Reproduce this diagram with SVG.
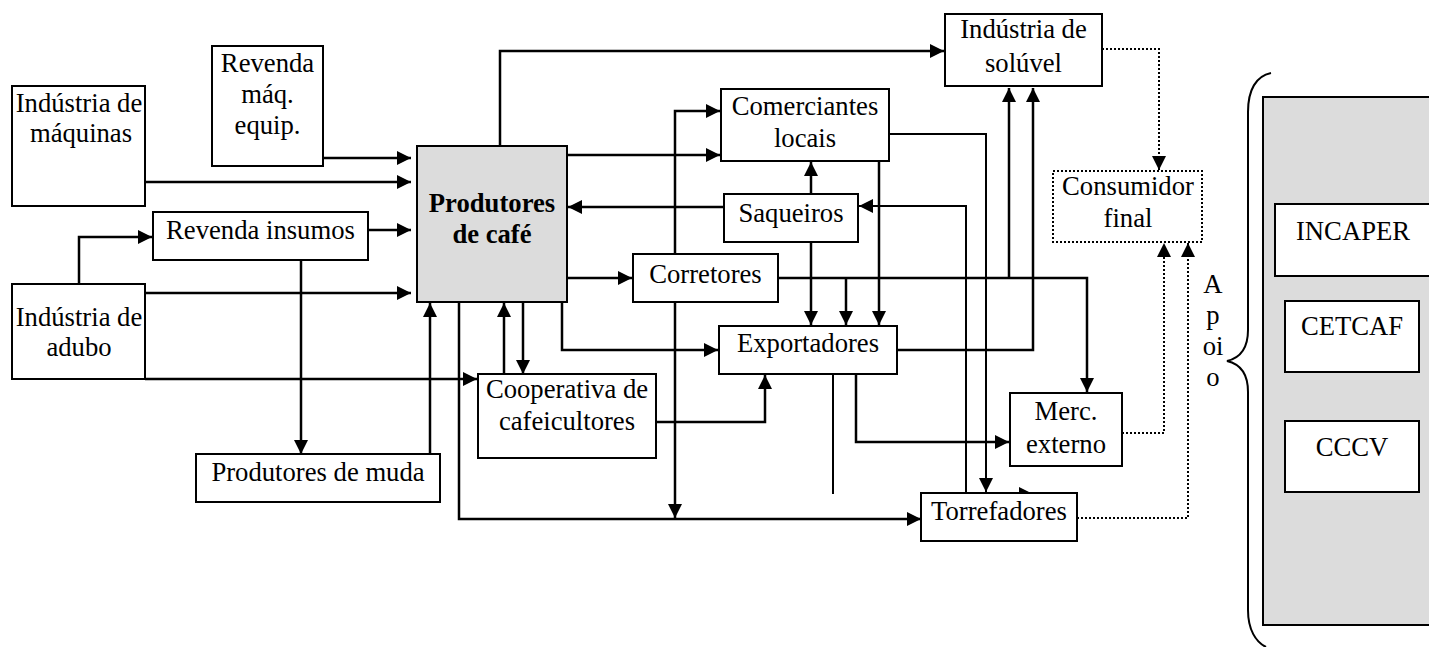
<svg xmlns="http://www.w3.org/2000/svg" width="1429" height="647" viewBox="0 0 1429 647">
<style>
.box{fill:#fff;stroke:#000;stroke-width:2}
.grey{fill:#dcdcdc;stroke:#000;stroke-width:2}
.dbox{fill:#fff;stroke:#000;stroke-width:2;stroke-dasharray:2 2}
.t{font-family:"Liberation Serif","Times New Roman",serif;font-size:26.67px;text-anchor:middle;fill:#000}
.b{font-weight:bold}
.c{fill:none;stroke:#000;stroke-width:2.5}
.p{fill:none;stroke:#000;stroke-width:2}
.d{fill:none;stroke:#000;stroke-width:2;stroke-dasharray:2 2}
.ar{marker-end:url(#ah)}
</style>
<defs>
<marker id="ah" markerUnits="userSpaceOnUse" markerWidth="14" markerHeight="14" refX="14" refY="7" orient="auto">
<path d="M0,0 L14,7 L0,14 z" fill="#000"/>
</marker>
</defs>
<rect width="1429" height="647" fill="#fff"/>
<g id="connectors">
<path class="c ar" d="M323,158 H411"/>
<path class="c ar" d="M145,182 H411"/>
<path class="c ar" d="M368,230 H411"/>
<path class="c ar" d="M145,293 H411"/>
<path class="c ar" d="M79,284 V237 H152"/>
<path class="c ar" d="M301,260 V454"/>
<path class="c ar" d="M145,379 H477"/>
<path class="c ar" d="M430,454 V303"/>
<path class="c ar" d="M459,302 V519 H921"/>
<path class="c ar" d="M523,302 V374"/>
<path class="c ar" d="M504,374 V303"/>
<path class="c ar" d="M562,302 V350 H718"/>
<path class="c ar" d="M567,278 H632"/>
<path class="c ar" d="M567,155 H720"/>
<path class="c ar" d="M724,207 H568"/>
<path class="c ar" d="M500,146 V51 H944"/>
<path class="c ar" d="M675,254 V111 H720"/>
<path class="c ar" d="M675,302 V518"/>
<path class="c ar" d="M656,422 H765 V375"/>
<path class="c ar" d="M811,194 V162"/>
<path class="c ar" d="M811,242 V325"/>
<path class="c ar" d="M879,161 V325"/>
<path class="c ar" d="M778,278 H1087 V392"/>
<path class="c ar" d="M846,278 V325"/>
<path class="c ar" d="M1009,278 V88"/>
<path class="c ar" d="M897,350 H1033 V88"/>
<path class="p ar" d="M889,134 H986 V492"/>
<path class="p ar" d="M966,493 V206 H859"/>
<path class="p" d="M833,374 V494"/>
<path class="c ar" d="M856,374 V442 H1009"/>
<path d="M1019,487 L1031,493 L1019,493 z" fill="#000"/>
<path class="d ar" d="M1102,49 H1159 V170"/>
<path class="d ar" d="M1122,433 H1164 V243"/>
<path class="d ar" d="M1077,518 H1188 V243"/>
</g>
<g id="ind-maquinas"><rect class="box" x="12" y="86" width="133" height="120"/><text class="t" x="79" y="112">Indústria de</text><text class="t" x="81" y="142">máquinas</text></g>
<g id="revenda-maq"><rect class="box" x="212" y="46" width="111" height="120"/><text class="t" x="267.5" y="72">Revenda</text><text class="t" x="267.5" y="103">máq.</text><text class="t" x="267.5" y="134">equip.</text></g>
<g id="revenda-insumos"><rect class="box" x="153" y="212" width="215" height="48"/><text class="t" x="260.5" y="239">Revenda insumos</text></g>
<g id="ind-adubo"><rect class="box" x="12" y="284" width="133" height="95"/><text class="t" x="79" y="326">Indústria de</text><text class="t" x="79" y="356">adubo</text></g>
<g id="prod-muda"><rect class="box" x="196" y="454" width="244" height="48"/><text class="t" x="318" y="481">Produtores de muda</text></g>
<g id="produtores"><rect class="grey" x="417" y="146" width="150" height="156"/><text class="t b" x="492" y="212">Produtores</text><text class="t b" x="492" y="243">de café</text></g>
<g id="comerciantes"><rect class="box" x="721" y="89" width="168" height="72"/><text class="t" x="805" y="115">Comerciantes</text><text class="t" x="805" y="147">locais</text></g>
<g id="saqueiros"><rect class="box" x="724" y="194" width="134" height="48"/><text class="t" x="791" y="222">Saqueiros</text></g>
<g id="corretores"><rect class="box" x="633" y="254" width="145" height="48"/><text class="t" x="705.5" y="283">Corretores</text></g>
<g id="exportadores"><rect class="box" x="719" y="326" width="178" height="48"/><text class="t" x="808" y="352">Exportadores</text></g>
<g id="cooperativa"><rect class="box" x="478" y="374" width="178" height="84"/><text class="t" x="567" y="398">Cooperativa de</text><text class="t" x="567" y="430">cafeicultores</text></g>
<g id="torrefadores"><rect class="box" x="921" y="493" width="156" height="48"/><text class="t" x="999" y="520">Torrefadores</text></g>
<g id="merc-externo"><rect class="box" x="1010" y="393" width="112" height="73"/><text class="t" x="1066" y="420">Merc.</text><text class="t" x="1066" y="453">externo</text></g>
<g id="ind-soluvel"><rect class="box" x="945" y="14" width="157" height="72"/><text class="t" x="1023.5" y="38">Indústria de</text><text class="t" x="1023.5" y="72">solúvel</text></g>
<g id="consumidor"><rect class="dbox" x="1053" y="171" width="149" height="71"/><text class="t" x="1128" y="195">Consumidor</text><text class="t" x="1128" y="227">final</text></g>
<g id="apoio">
<rect class="grey" x="1263" y="97" width="200" height="528"/>
<rect class="box" x="1275" y="204" width="200" height="72"/><text class="t" x="1353" y="240">INCAPER</text>
<rect class="box" x="1285" y="301" width="134" height="71"/><text class="t" x="1352" y="335">CETCAF</text>
<rect class="box" x="1285" y="421" width="134" height="71"/><text class="t" x="1352" y="456">CCCV</text>
<path class="p" d="M1271,73 C1256,76 1248,90 1248,112 L1248,330 C1248,348 1240,358 1227,361 C1240,364 1248,374 1248,392 L1248,610 C1248,630 1256,642 1266,647"/>
<text class="t" x="1213" y="293">A</text>
<text class="t" x="1213" y="324">p</text>
<text class="t" x="1213" y="355">oi</text>
<text class="t" x="1213" y="386">o</text>
</g>
</svg>
